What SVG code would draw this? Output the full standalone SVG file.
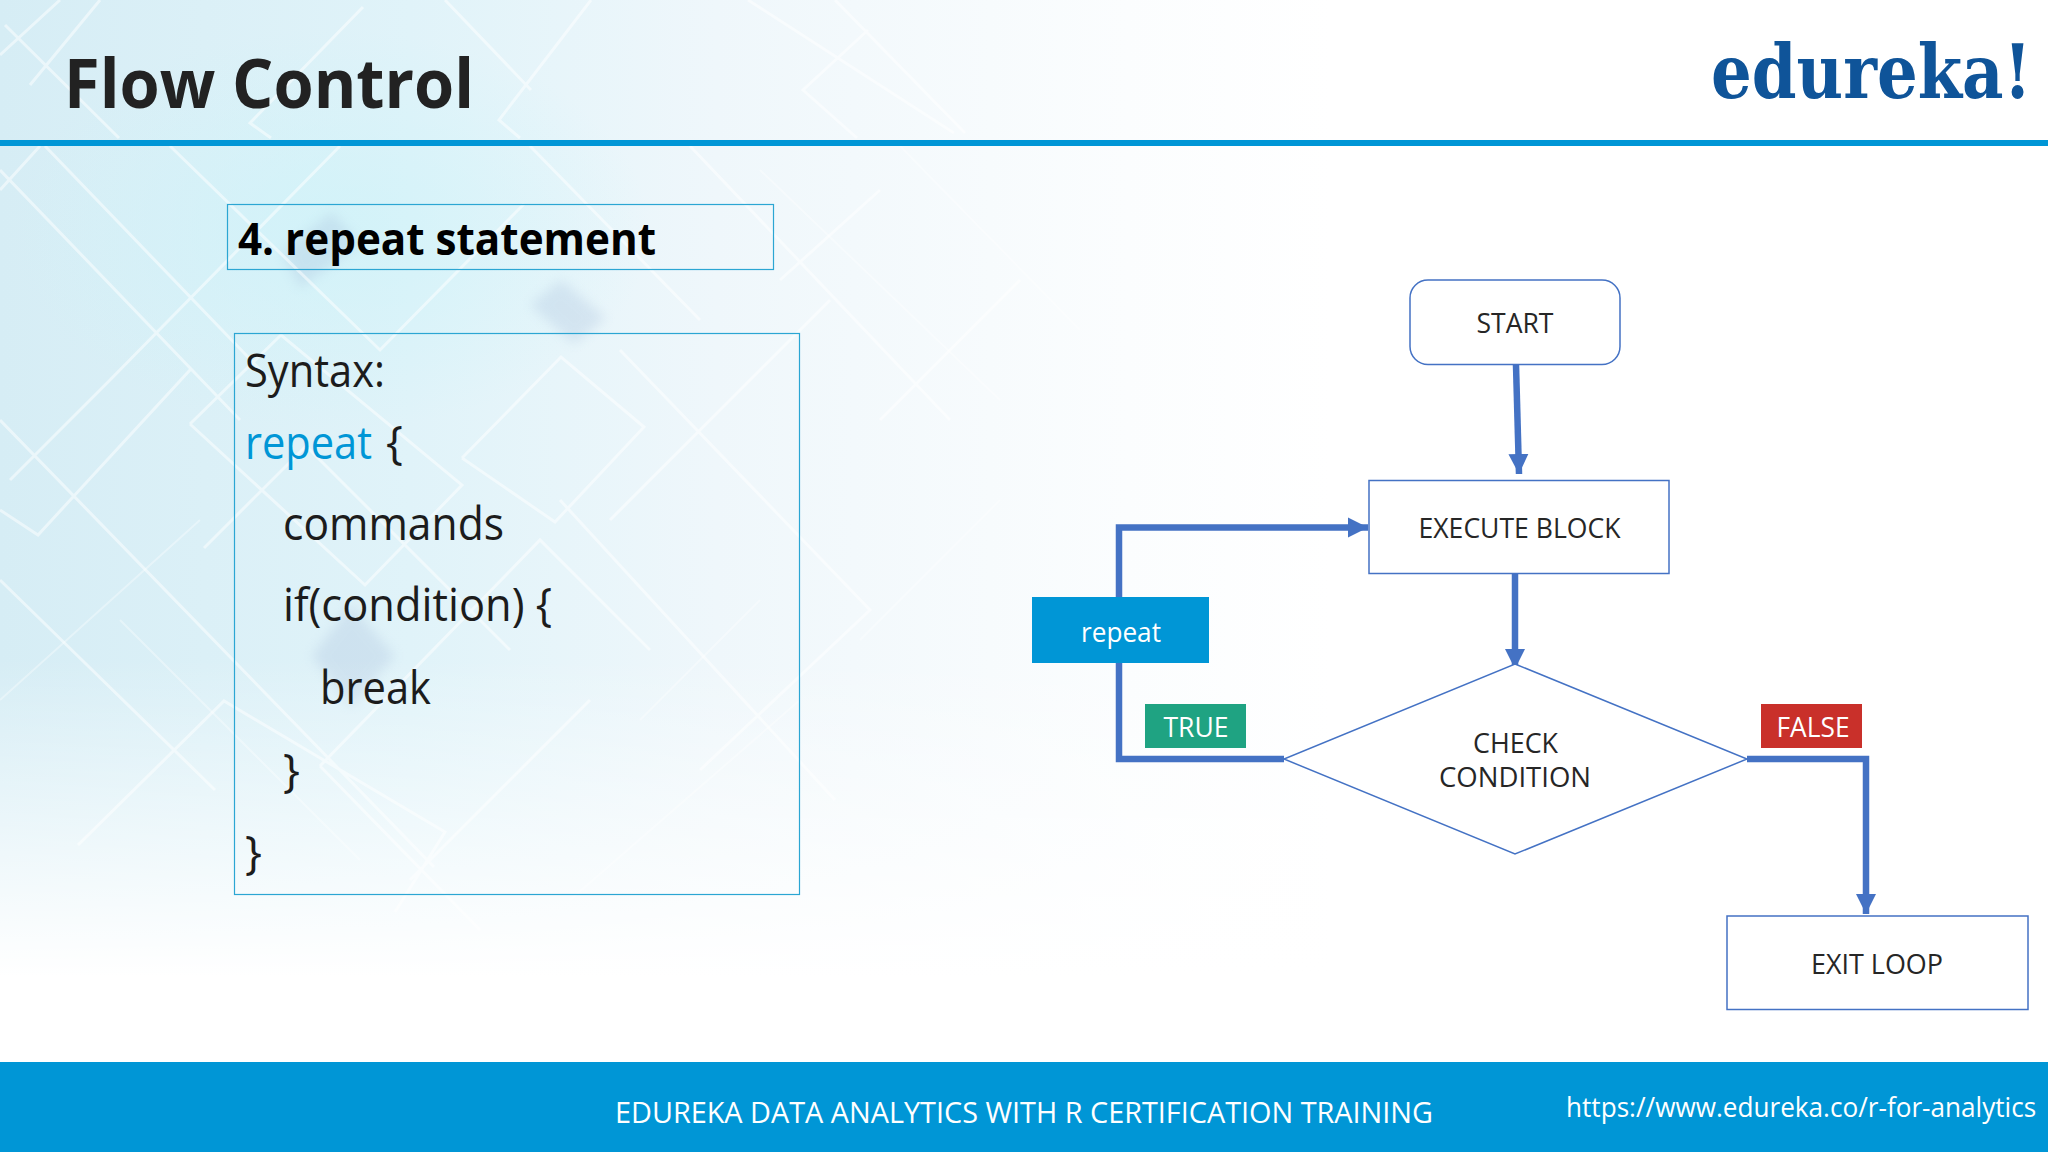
<svg xmlns="http://www.w3.org/2000/svg" width="2048" height="1152" viewBox="0 0 2048 1152">
<style>
text{font-family:"Open Sans","Noto Sans",sans-serif}
.b{fill:#fff;stroke:#4472c4;stroke-width:1.5}
.l{font-size:28px;fill:#262626;text-anchor:middle}
.w{font-size:28px;fill:#fff;text-anchor:middle}
.c{font-size:45px;fill:#1c1c1c}
.conn{fill:none;stroke:#4472c4;stroke-width:6.500}
.d{fill:none;stroke:#fff;stroke-width:3;opacity:.5}
.e{fill:none;stroke:#fff;stroke-width:2;opacity:.35}
.s{fill:#a9bfdc;opacity:.3;filter:url(#blur)}
</style>
<defs>
<linearGradient id="bg" x1="0" y1="0" x2="1" y2="0">
<stop offset="0" stop-color="#d6edf5"/><stop offset=".2" stop-color="#e0f3f9"/><stop offset=".35" stop-color="#eff7fb"/><stop offset=".55" stop-color="#fbfdfe"/><stop offset=".65" stop-color="#fff"/>
</linearGradient>
<radialGradient id="cy"><stop offset="0" stop-color="#cdf3f9" stop-opacity=".7"/><stop offset="1" stop-color="#cdf3f9" stop-opacity="0"/></radialGradient>
<linearGradient id="fade" x1="0" y1="0" x2="0" y2="1"><stop offset=".62" stop-color="#fff" stop-opacity="0"/><stop offset=".92" stop-color="#fff"/></linearGradient>
<filter id="blur"><feGaussianBlur stdDeviation="6"/></filter>
<marker id="ah" markerUnits="userSpaceOnUse" markerWidth="22" markerHeight="22" refX="20" refY="11" orient="auto"><path d="M0 1L20 11L0 21Z" fill="#4472c4"/></marker>
</defs>
<g id="background">
<rect width="2048" height="1062" fill="url(#bg)"/>
<ellipse cx="330" cy="230" rx="320" ry="200" fill="url(#cy)"/>
<path class="s" d="M282 252L332 212L360 244L300 288ZM530 305L561 280L606 318L574 344ZM312 656L351 605L395 656L351 707Z"/>
<path class="d" d="M5 25L119 138M363 7L250 123L271 138M591 0L499 120L520 138M445 0L531 90M748 0L954 133M835 0L965 133M868 30L803 90L857 138M60 0L0 55M100 0L30 85M170 146L380 350L524 204M45 146L270 380M0 170L240 420M0 420L434 867M0 510L38 535L190 370M10 480L110 380L340 146M40 146L0 190M190 424L281 335L462 485L365 585L190 424M204 548L306 446L510 650M462 458L561 357L644 427L555 522L462 458M0 580L215 790M78 845L224 701L445 832L395 912M320 766L540 540L650 650M320 766L480 930M560 500L835 800M410 880L590 700M610 520L830 300M620 350L870 610L700 770M530 146L700 320M690 146L950 420M780 280L880 190M880 420L1020 280"/>
<path class="e" d="M0 700L200 520M120 620L360 860M640 720L760 600M570 900L800 700M760 170L1000 400M900 146L1080 330M1000 500L860 640"/>
<rect width="2048" height="1062" fill="url(#fade)"/>
<rect x="1640" y="0" width="408" height="140" fill="#fff"/>
</g>
<g id="header">
<text x="64" y="108" font-size="68" font-weight="700" fill="#222" textLength="410" lengthAdjust="spacingAndGlyphs">Flow Control</text>
<text transform="translate(1711 98) scale(.866 1)" font-size="74" font-weight="700" fill="#0f5499" style="font-family:'DejaVu Serif',serif">edureka!</text>
<rect y="140" width="2048" height="6" fill="#0096d6"/>
</g>
<g id="heading">
<rect x="227.500" y="204.500" width="546" height="65" fill="none" stroke="#2ba6d3" stroke-width="1.200"/>
<text x="238" y="255" font-size="44" font-weight="700" fill="#000" textLength="418" lengthAdjust="spacingAndGlyphs">4. repeat statement</text>
</g>
<g id="syntax">
<rect x="234.500" y="333.500" width="565" height="561" fill="none" stroke="#2ba6d3" stroke-width="1.200"/>
<text class="c" x="245" y="387" textLength="140" lengthAdjust="spacingAndGlyphs">Syntax:</text>
<text class="c" x="245" y="459" textLength="127" lengthAdjust="spacingAndGlyphs" style="fill:#0096d6">repeat</text>
<text class="c" x="386" y="459">{</text>
<text class="c" x="283" y="540" textLength="221" lengthAdjust="spacingAndGlyphs">commands</text>
<text class="c" x="283" y="621" textLength="269" lengthAdjust="spacingAndGlyphs">if(condition) {</text>
<text class="c" x="320" y="704" textLength="111" lengthAdjust="spacingAndGlyphs">break</text>
<text class="c" x="283" y="787">}</text>
<text class="c" x="245" y="869">}</text>
</g>
<g id="connectors">
<path class="conn" d="M1516 365L1519 474" marker-end="url(#ah)"/>
<path class="conn" d="M1515 573L1515 669" marker-end="url(#ah)"/>
<path class="conn" d="M1284 759H1119V527.500H1368" marker-end="url(#ah)"/>
<path class="conn" d="M1747 759H1866V914" marker-end="url(#ah)"/>
</g>
<g id="start"><rect class="b" x="1410" y="280" width="210" height="84.500" rx="18"/><text class="l" x="1515" y="333" textLength="77" lengthAdjust="spacingAndGlyphs">START</text></g>
<g id="execute"><rect class="b" x="1369" y="480.500" width="300" height="93"/><text class="l" x="1519.500" y="538" textLength="202" lengthAdjust="spacingAndGlyphs">EXECUTE BLOCK</text></g>
<g id="check"><path class="b" d="M1515 664L1747 759L1515 854L1284 759Z"/><text class="l" x="1515.500" y="753" textLength="85" lengthAdjust="spacingAndGlyphs">CHECK</text><text class="l" x="1515" y="787" textLength="152" lengthAdjust="spacingAndGlyphs">CONDITION</text></g>
<g id="exit"><rect class="b" x="1727" y="916" width="301" height="93.500"/><text class="l" x="1877" y="974" textLength="132" lengthAdjust="spacingAndGlyphs">EXIT LOOP</text></g>
<g id="repeat"><rect x="1032" y="597" width="177" height="66" fill="#0096d6"/><text class="w" x="1121" y="642" textLength="80" lengthAdjust="spacingAndGlyphs">repeat</text></g>
<g id="true"><rect x="1145" y="704" width="101" height="44" fill="#1fa382"/><text class="w" x="1196" y="737" textLength="65" lengthAdjust="spacingAndGlyphs">TRUE</text></g>
<g id="false"><rect x="1761" y="704" width="101" height="44" fill="#c9302a"/><text class="w" x="1813" y="737" textLength="73" lengthAdjust="spacingAndGlyphs">FALSE</text></g>
<g id="footer">
<rect y="1062" width="2048" height="90" fill="#0096d6"/>
<text x="615" y="1123" font-size="29" fill="#fff" textLength="818" lengthAdjust="spacingAndGlyphs">EDUREKA DATA ANALYTICS WITH R CERTIFICATION TRAINING</text>
<text transform="translate(1566 1117) scale(.934 1)" font-size="28" fill="#fff">https://www.edureka.co/r-for-analytics</text>
</g>
</svg>
